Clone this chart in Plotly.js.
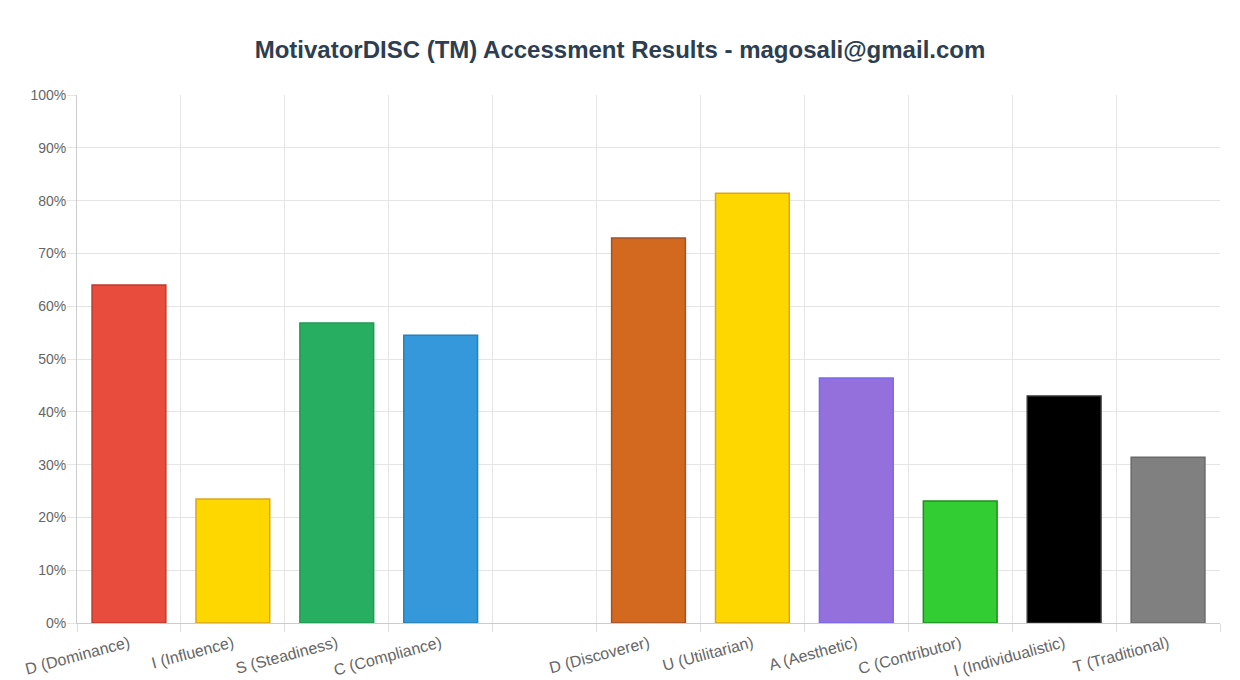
<!DOCTYPE html>
<html>
<head>
<meta charset="utf-8">
<script src="https://cdn.plot.ly/plotly-3.0.1.min.js"></script>
<style>
  html, body { margin: 0; padding: 0; background: #fff; }
  #chart { width: 1240px; height: 680px; }
</style>
</head>
<body>
<div id="chart"></div>
<script>
// categories (blank slot separates DISC from motivators)
var labels = ['D (Dominance)', 'I (Influence)', 'S (Steadiness)', 'C (Compliance)', ' ',
              'D (Discoverer)', 'U (Utilitarian)', 'A (Aesthetic)', 'C (Contributor)',
              'I (Individualistic)', 'T (Traditional)'];
var scores = [64.0, 23.5, 56.8, 54.5, null, 72.9, 81.4, 46.4, 23.1, 43.0, 31.4];
var fillColors = ['#E74C3C', '#FFD700', '#27AE60', '#3498DB', '#ffffff',
                  '#D2691E', '#FFD700', '#9370DB', '#32CD32', '#000000', '#808080'];
var lineColors = ['#C0392B', '#DAA520', '#229954', '#2980B9', '#ffffff',
                  '#A0522D', '#DAA520', '#7B68EE', '#228B22', '#333333', '#696969'];

var trace = {
  type: 'bar',
  x: labels,
  y: scores,
  width: 0.71,
  marker: { color: fillColors, line: { color: lineColors, width: 1.5 } },
  hoverinfo: 'x+y'
};

var layout = {
  width: 1240,
  height: 680,
  margin: { l: 77, r: 20, t: 95, b: 57 },
  paper_bgcolor: '#ffffff',
  plot_bgcolor: '#ffffff',
  font: { family: 'Liberation Sans, Arial, sans-serif', color: '#666666', size: 14 },
  showlegend: false,
  title: {
    text: '<b>MotivatorDISC (TM) Accessment Results - magosali@gmail.com</b>',
    font: { size: 24, color: '#2c3e50' },
    x: 0.5, xanchor: 'center',
    y: 1 - 50 / 680, yanchor: 'middle'
  },
  xaxis: {
    type: 'category',
    tickson: 'boundaries',
    ticks: 'outside', ticklen: 8, tickcolor: '#dddddd',
    ticklabelstandoff: 4,
    showgrid: true, gridcolor: '#e5e5e5',
    showline: true, linecolor: '#cccccc',
    tickangle: -15,
    tickfont: { size: 16, color: '#666666' },
    automargin: false,
    fixedrange: true
  },
  yaxis: {
    range: [0, 100],
    dtick: 10,
    ticksuffix: '%',
    ticks: 'outside', ticklen: 9, tickcolor: '#e5e5e5',
    ticklabelstandoff: -2,
    showgrid: true, gridcolor: '#e5e5e5',
    showline: true, linecolor: '#cccccc',
    zeroline: false,
    tickfont: { size: 14, color: '#666666' },
    automargin: false,
    fixedrange: true
  }
};

Plotly.newPlot('chart', [trace], layout, { displayModeBar: false, staticPlot: true });
</script>
</body>
</html>
